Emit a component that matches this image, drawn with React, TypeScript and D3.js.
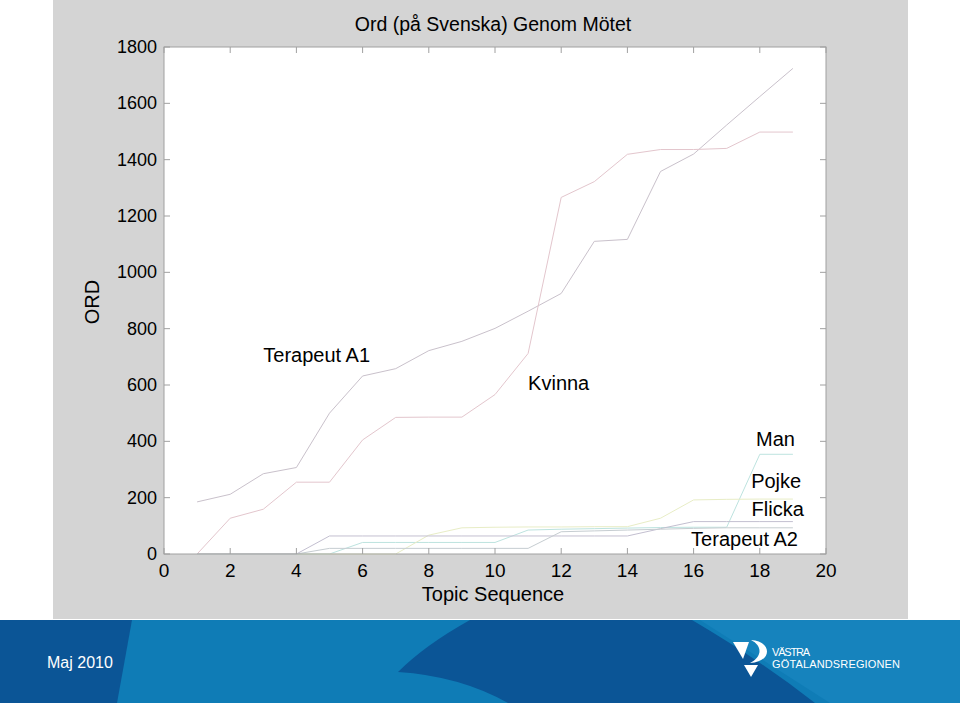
import * as d3 from "d3";
import { useEffect, useRef } from "react";

// topic index along the x axis
const topics = [1, 2, 3, 4, 5, 6, 7, 8, 9, 10, 11, 12, 13, 14, 15, 16, 17, 18, 19];

// cumulative word counts per speaker
const terapeutA1 = [185, 212, 285, 307, 500, 632, 658, 722, 755, 801, 862, 925, 1110, 1117, 1358, 1420, 1523, 1624, 1724];
const kvinna = [0, 127, 159, 255, 255, 405, 485, 486, 486, 566, 712, 1266, 1322, 1419, 1436, 1436, 1440, 1498, 1498];
const man = [0, 0, 0, 0, 0, 41, 41, 41, 41, 41, 85, 88, 90, 92, 94, 95, 95, 354, 354];
const pojke = [0, 0, 0, 0, 0, 0, 0, 67, 93, 95, 96, 96, 97, 97, 127, 192, 194, 195, 195];
const flicka = [0, 0, 0, 0, 64, 64, 64, 64, 64, 64, 64, 64, 64, 64, 90, 115, 115, 115, 115];
const terapeutA2 = [0, 0, 0, 0, 20, 20, 20, 20, 20, 20, 20, 79, 82, 85, 88, 91, 93, 93, 93];

const xTicks = [0, 2, 4, 6, 8, 10, 12, 14, 16, 18, 20];
const yTicks = [0, 200, 400, 600, 800, 1000, 1200, 1400, 1600, 1800];

const seriesNames = ["Terapeut A1", "Kvinna", "Man", "Pojke", "Flicka", "Terapeut A2"];
const seriesValues = [terapeutA1, kvinna, man, pojke, flicka, terapeutA2];
const seriesColors = ["#c9c1cb", "#e3c6cd", "#bde3df", "#e8edc6", "#c3bfd0", "#c6cdd1"];

const FONT = "'Liberation Sans', Arial, Helvetica, sans-serif";

const App: React.FC = () => {
  const ref = useRef<SVGSVGElement | null>(null);

  useEffect(() => {
    document.body.style.margin = "0";
    const svg = d3.select(ref.current);
    svg.selectAll("*").remove();

    const width = 960;
    const height = 703;
    svg.attr("width", width).attr("height", height);

    const plot = { left: 164, right: 826, top: 47, bottom: 554 };

    // page background
    svg.append("rect").attr("width", width).attr("height", height).attr("fill", "#ffffff");
    svg
      .append("rect")
      .attr("x", 53)
      .attr("y", 0)
      .attr("width", 855)
      .attr("height", 619)
      .attr("fill", "#d4d4d4");

    // footer banner
    const banner = svg.append("g");
    banner.append("rect").attr("x", 0).attr("y", 620).attr("width", width).attr("height", 83).attr("fill", "#0f7cb6");
    banner.append("path").attr("d", "M700,620 L960,620 L960,703 L830,703 Z").attr("fill", "#1683bd");
    banner.append("path").attr("d", "M0,620 L132,620 L117,703 L0,703 Z").attr("fill", "#0b5596");
    banner
      .append("path")
      .attr("d", "M470,620 L692,620 Q760,660 815,703 L508,703 Q460,676 398,672 Q425,645 470,620 Z")
      .attr("fill", "#0b5596");
    banner
      .append("text")
      .attr("x", 47)
      .attr("y", 668)
      .attr("fill", "#ffffff")
      .style("font-family", FONT)
      .style("font-size", "16px")
      .text("Maj 2010");
    // logo
    banner.append("path").attr("d", "M733,642 L749,642 L743,659 Z").attr("fill", "#ffffff");
    banner
      .append("path")
      .attr("d", "M751,640 C772,641 773,662 750,663 C762,657 763,646 751,640 Z")
      .attr("fill", "#ffffff");
    banner.append("path").attr("d", "M744,665 L758,665 L751,677 Z").attr("fill", "#ffffff");
    banner
      .append("text")
      .attr("x", 772)
      .attr("y", 656)
      .attr("fill", "#ffffff")
      .attr("textLength", 38)
      .style("font-family", FONT)
      .style("font-size", "11px")
      .text("VÄSTRA");
    banner
      .append("text")
      .attr("x", 772)
      .attr("y", 668)
      .attr("fill", "#ffffff")
      .attr("textLength", 128)
      .style("font-family", FONT)
      .style("font-size", "11px")
      .text("GÖTALANDSREGIONEN");

    const x = d3.scaleLinear().domain([0, 20]).range([plot.left, plot.right]);
    const y = d3.scaleLinear().domain([0, 1800]).range([plot.bottom, plot.top]);

    // plot area
    svg
      .append("rect")
      .attr("x", plot.left)
      .attr("y", plot.top)
      .attr("width", plot.right - plot.left)
      .attr("height", plot.bottom - plot.top)
      .attr("fill", "#ffffff");

    const line = d3
      .line<number>()
      .x((_, i) => x(topics[i]))
      .y((d) => y(d));

    svg
      .append("g")
      .selectAll("path")
      .data(seriesValues)
      .enter()
      .append("path")
      .attr("d", (d) => line(d))
      .attr("fill", "none")
      .attr("stroke", (_, i) => seriesColors[i])
      .attr("stroke-width", 1);

    // frame and inside ticks
    const axisColor = "#a0a0a0";
    svg
      .append("rect")
      .attr("x", plot.left)
      .attr("y", plot.top)
      .attr("width", plot.right - plot.left)
      .attr("height", plot.bottom - plot.top)
      .attr("fill", "none")
      .attr("stroke", axisColor)
      .attr("stroke-width", 1);

    const ticks = svg.append("g").attr("stroke", axisColor).attr("stroke-width", 1);
    xTicks.forEach((t) => {
      ticks.append("line").attr("x1", x(t)).attr("x2", x(t)).attr("y1", plot.bottom).attr("y2", plot.bottom - 6);
      ticks.append("line").attr("x1", x(t)).attr("x2", x(t)).attr("y1", plot.top).attr("y2", plot.top + 6);
    });
    yTicks.forEach((t) => {
      ticks.append("line").attr("x1", plot.left).attr("x2", plot.left + 6).attr("y1", y(t)).attr("y2", y(t));
      ticks.append("line").attr("x1", plot.right).attr("x2", plot.right - 6).attr("y1", y(t)).attr("y2", y(t));
    });

    const labels = svg.append("g").style("font-family", FONT).style("font-size", "18px").attr("fill", "#000");

    labels
      .selectAll("text.ytick")
      .data(yTicks)
      .enter()
      .append("text")
      .attr("class", "ytick")
      .attr("x", plot.left - 7)
      .attr("y", (d) => y(d) + 6)
      .attr("text-anchor", "end")
      .text((d) => d);

    labels
      .selectAll("text.xtick")
      .data(xTicks)
      .enter()
      .append("text")
      .attr("class", "xtick")
      .attr("x", (d) => x(d))
      .attr("y", plot.bottom + 23)
      .attr("text-anchor", "middle")
      .style("font-size", "19px")
      .text((d) => d);

    labels
      .append("text")
      .attr("x", 493)
      .attr("y", 31)
      .attr("text-anchor", "middle")
      .style("font-size", "19.5px")
      .text("Ord (på Svenska) Genom Mötet");

    labels
      .append("text")
      .attr("x", 493)
      .attr("y", 601)
      .attr("text-anchor", "middle")
      .style("font-size", "20px")
      .text("Topic Sequence");

    labels
      .append("text")
      .attr("transform", "translate(99,302) rotate(-90)")
      .attr("text-anchor", "middle")
      .style("font-size", "20px")
      .text("ORD");

    // series annotations inside the plot
    const notes: [string, number, number, string][] = [
      [seriesNames[0], 3, 682, "start"],
      [seriesNames[1], 11, 582, "start"],
      [seriesNames[2], 19.06, 383, "end"],
      [seriesNames[3], 19.25, 234, "end"],
      [seriesNames[4], 19.33, 135, "end"],
      [seriesNames[5], 19.15, 28, "end"],
    ];
    labels
      .selectAll("text.note")
      .data(notes)
      .enter()
      .append("text")
      .attr("class", "note")
      .attr("x", (d) => x(d[1]))
      .attr("y", (d) => y(d[2]))
      .attr("text-anchor", (d) => d[3])
      .style("font-size", "20px")
      .text((d) => d[0]);
  }, []);

  return <svg ref={ref}></svg>;
};

export default App;
